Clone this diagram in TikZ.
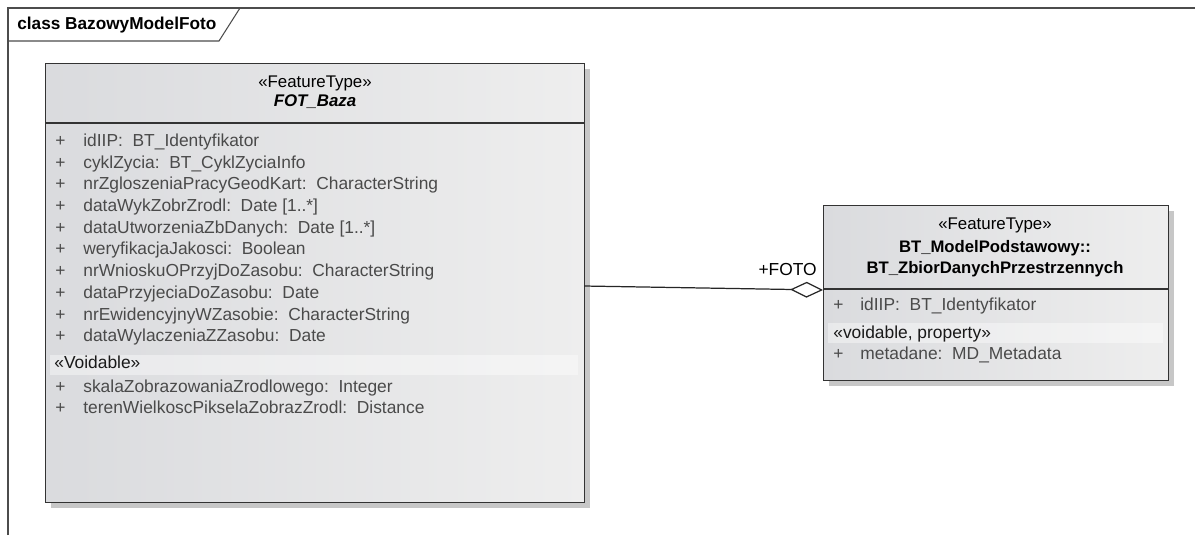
\documentclass[tikz,border=0pt]{standalone}
\usepackage{fontspec}
\setmainfont{Liberation Sans}
\usetikzlibrary{arrows.meta,shadows}

\definecolor{boxleft}{HTML}{DADBDE}
\definecolor{boxright}{HTML}{EEEEEE}
\definecolor{attrtext}{HTML}{4A4A4A}

\tikzset{
    umlbox/.style={draw=black!80, line width=0.8pt, left color=boxleft, right color=boxright,
        drop shadow={shadow xshift=2.8pt, shadow yshift=-2.8pt, fill=black!22, opacity=1},
        inner sep=0pt, anchor=north west},
    attr/.style={anchor=base west, inner sep=0pt, text=attrtext, font=\fontsize{9.9}{11}\selectfont},
    head/.style={anchor=base, inner sep=0pt, font=\fontsize{9.6}{11}\selectfont},
    band/.style={fill=white, fill opacity=0.4, draw=none}
}

\begin{document}
\begin{tikzpicture}[x=0.02cm, y=-0.02cm]
    \useasboundingbox (0,0) rectangle (1195,535);

    % Frame and tab
    \draw[black!70, line width=0.6pt] (8,535) -- (8,8) -- (1195,8);
    \draw[black!70, line width=0.6pt] (8,41) -- (219,41) -- (240,8);
    \node[anchor=base west, inner sep=0pt, font=\bfseries\fontsize{9.8}{11}\selectfont] (title) at (17,29) {class BazowyModelFoto};

    % Class FOT_Baza
    \node[umlbox, minimum width=10.78cm, minimum height=8.78cm] (baza) at (45,63) {};
    \draw[black!80, line width=0.8pt] (45,123) -- (584,123);
    \node[head] (bazaST) at (315,87) {«FeatureType»};
    \node[head, font=\bfseries\itshape\fontsize{9.6}{11}\selectfont] (bazaName) at (315,106) {FOT\_Baza};

    \foreach \y/\t in {146/{idIIP:\ \ BT\_Identyfikator},
                       168/{cyklZycia:\ \ BT\_CyklZyciaInfo},
                       189/{nrZgloszeniaPracyGeodKart:\ \ CharacterString},
                       211/{dataWykZobrZrodl:\ \ Date [1..*]},
                       233/{dataUtworzeniaZbDanych:\ \ Date [1..*]},
                       254/{weryfikacjaJakosci:\ \ Boolean},
                       276/{nrWnioskuOPrzyjDoZasobu:\ \ CharacterString},
                       298/{dataPrzyjeciaDoZasobu:\ \ Date},
                       320/{nrEwidencyjnyWZasobie:\ \ CharacterString},
                       341/{dataWylaczeniaZZasobu:\ \ Date},
                       392/{skalaZobrazowaniaZrodlowego:\ \ Integer},
                       413/{terenWielkoscPikselaZobrazZrodl:\ \ Distance}} {
        \node[attr] at (55,\y) {+};
        \node[attr] at (83,\y) {\t};
    }
    \fill[band] (50,355) rectangle (578,375);
    \node[attr, text=black!90] (bazaVoid) at (54,368) {«Voidable»};

    % Class BT_ZbiorDanychPrzestrzennych
    \node[umlbox, minimum width=6.9cm, minimum height=3.5cm] (zbior) at (823,205) {};
    \draw[black!80, line width=0.8pt] (823,289) -- (1168,289);
    \node[head] (zbiorST) at (995,229) {«FeatureType»};
    \node[head, font=\bfseries\fontsize{9.5}{11}\selectfont] (zbiorPkg) at (995,252) {BT\_ModelPodstawowy::};
    \node[head, font=\bfseries\fontsize{9.5}{11}\selectfont] (zbiorName) at (995,273) {BT\_ZbiorDanychPrzestrzennych};

    \node[attr] at (833,310) {+};
    \node[attr] (zbiorId) at (860,310) {idIIP:\ \ BT\_Identyfikator};
    \fill[band] (828,323) rectangle (1163,343);
    \node[attr, text=black!90] (zbiorVoid) at (833,338) {«voidable, property»};
    \node[attr] at (833,359) {+};
    \node[attr] (zbiorMeta) at (860,359) {metadane:\ \ MD\_Metadata};

    % Aggregation
    \coordinate (aggFrom) at (584,286);
    \coordinate (aggTo) at (823,290);
    \draw[black!85, line width=0.7pt, -{Diamond[fill=white, length=18.7pt, width=9pt]}] (aggFrom) -- (aggTo);
    \node[anchor=base east, inner sep=0pt, font=\fontsize{9.9}{11}\selectfont] (foto) at (817,275) {+FOTO};
\end{tikzpicture}
\end{document}
